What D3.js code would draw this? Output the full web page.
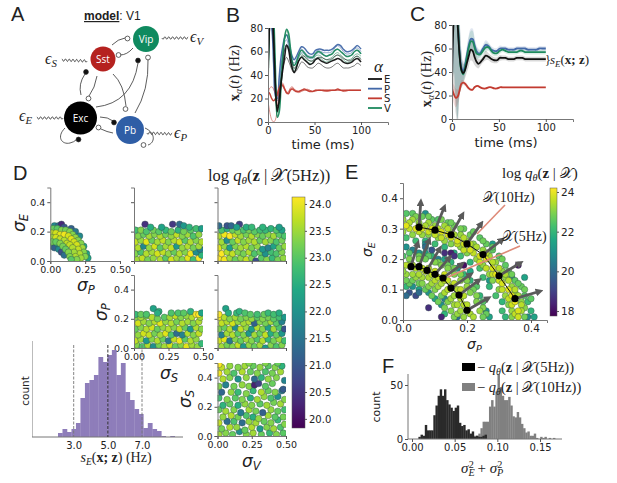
<!DOCTYPE html>
<html>
<head>
<meta charset="utf-8">
<script src="https://cdnjs.cloudflare.com/ajax/libs/d3/7.8.5/d3.min.js"></script>
<style>
	body { margin: 0; background: #fff; }
	svg { display: block; }
	.tick text { font-family: "DejaVu Sans", sans-serif; fill: #222; }
	.tick line { stroke: #555; }
	.domain { stroke: #777; }
</style>
</head>
<body>
<svg id="graph" width="617" height="483"></svg>
<script>
// time samples shared by the B and C traces (ms)
const times = [0,2,4,6,8,10,12,14,16,18,20,22,24,26,28,30,33,36,39,42,45,48,51,54,57,60,63,66,69,72,75,78,81,84,87,90,93,96,100];

// panel B, single simulated traces (Hz)
const tracesE = [
	[26,90,100,80,38,14,16,30,48,62,66,64,58,50,46,47,52,56,56,54,52,52,54,55,55,54,53,53,54,56,57,56,54,53,52,53,55,56,53],
	[30,80,90,60,25,12,22,36,46,52,55,52,48,44,42,43,47,51,50,47,46,46,48,50,49,47,46,46,47,49,50,48,46,46,46,47,48,50,48],
	[28,85,95,70,30,9,18,33,45,56,65,62,52,46,42,45,52,55,53,51,49,50,53,54,52,51,50,51,52,53,54,53,51,50,50,51,53,54,51],
];
const tracesP = [
	[40,95,90,60,25,18,30,48,60,68,70,65,58,52,50,52,58,62,60,57,56,56,59,61,60,59,59,59,60,63,65,63,60,58,58,59,62,63,60],
	[38,100,110,75,35,22,28,42,55,62,66,62,55,50,48,50,55,59,58,55,54,54,57,59,58,57,56,57,58,61,62,60,58,56,56,57,60,61,58],
	[42,85,80,50,22,20,38,55,65,72,74,70,62,56,53,55,60,64,63,60,58,58,61,62,62,61,61,61,62,64,66,65,62,60,60,61,63,65,62],
];
const tracesS = [
	[24,29,30,28,24,22,27,31,30,27,25,26,28,29,28,27,26,27,27,27,27,26,27,27,27,27,26,27,27,27,27,27,26,27,27,27,27,27,27],
	[18,8,2,0,2,12,26,33,33,28,24,25,29,30,28,26,25,26,27,28,27,26,26,27,27,26,26,26,27,27,27,27,26,26,27,27,27,27,27],
	[26,24,20,18,20,24,29,32,31,28,25,24,27,28,27,26,26,27,28,27,26,26,27,27,27,27,27,27,27,27,28,27,27,27,27,27,27,27,27],
];
const tracesV = [
	[30,90,110,90,40,5,12,35,58,72,78,74,60,48,45,47,55,58,56,53,52,52,56,57,56,54,53,54,55,58,59,57,55,53,53,54,57,58,56],
	[32,85,100,80,35,8,18,40,60,70,75,70,58,46,43,45,52,56,54,51,50,50,53,55,54,52,51,52,53,56,57,55,53,51,51,52,55,56,54],
	[28,95,120,95,45,4,8,30,55,73,79,76,64,52,48,50,57,61,59,56,55,55,58,60,59,57,56,57,58,61,62,60,58,56,56,57,60,61,58],
];

// panel C, means and spreads (Hz)
const meanE = [28,85,95,80,55,42,39,42,48,54,59,58,53,49,47,48,51,54,53,51,50,50,52,52,52,51,51,51,52,52,52,51,51,51,51,51,51,51,51];
const meanP = [35,100,110,85,58,44,41,46,55,63,68,68,63,58,56,56,60,63,62,59,58,58,60,60,60,59,59,59,60,60,60,60,59,59,59,59,60,60,60];
const meanV = [32,100,105,85,55,41,38,44,53,61,66,66,61,56,55,55,58,61,61,58,56,56,58,59,58,57,57,57,57,58,58,57,57,57,57,57,57,57,57];
const meanS = [26,21,18,19,24,30,31,30,28,26,25,25,27,28,28,27,26,26,27,27,26,26,27,27,27,27,27,27,27,27,27,27,27,27,27,27,27,27,27];
const spreadBig = [6,60,90,85,35,15,8,7,8,9,9,9,7,5,4,3,3,4,3,3,2.5,2.5,2.5,2,2,2,2,2,2,2,2,2,2,2,2,2,2,2,2];
const spreadS = [5,8,8,6,4,3,2,2,2,1.5,1.2,1,1,1,0.8,0.8,0.7,0.7,0.6,0.5,0.5,0.5,0.5,0.5,0.5,0.5,0.5,0.5,0.5,0.5,0.5,0.5,0.5,0.5,0.5,0.5,0.5,0.5,0.5];

// panel D scatter, flat triples: sigma x 100, sigma y 100, log q
const scatterPE = [1,10,21, 3,9,20.8, 6,8,21.5, 8,6,20.5, 10,4,21, 5,12,21.8, 3,24,21.5, 6,24,21, 8,25,20, 10,23,20.6, 15,22,20.8, 18,20,21.2, 21,17,21.5, 24,10,22, 26,5,22, 27,2,22,
	2,22,22.8, 5,22,22.7, 8,21,23, 11,21,22.9, 14,20,23, 16,18,23, 18,16,23.1, 20,14,23, 22,12,23, 23,9,23.2, 24,6,23, 25,3,23,
	1,19,23.4, 4,19,23.5, 7,18,23.6, 10,18,23.7, 13,17,23.5, 15,15,23.6, 17,13,23.5, 19,11,23.5, 20,8,23.4, 21,5,23.3, 22,2,23.2,
	1,16,23.2, 4,16,23.5, 7,15,23.4, 10,14,23.3, 12,12,23.4, 14,11,23.4, 16,9,23.3, 17,6,23.2, 18,3,23.3, 19,1,23,
	1,13,22.9, 4,13,22.8, 7,12,23, 9,10,22.9, 11,8,22.8, 13,6,23, 14,3,23, 15,1,22.7];
const scatterSE = [2,1,23.2, 6,2,23.4, 10,1,22.9, 14,2,23.1, 19,1,23.3, 23,2,22.7, 27,1,23.5, 31,2,23.2, 35,1,23, 39,2,23.6, 43,1,22.5, 47,2,23.9, 49,4,22.3,
	1,5,23, 5,6,22.6, 9,5,23.3, 13,6,23.2, 17,5,23.5, 21,6,23.4, 25,5,23.1, 29,6,22.8, 33,5,23.3, 37,6,23, 41,5,23.7, 45,6,21.6, 48,8,21.4,
	3,9,23.3, 7,10,21.5, 11,9,23.1, 15,10,23.5, 19,9,22.7, 23,10,23.2, 27,9,23.4, 31,10,21.8, 35,9,23.1, 39,10,23.3, 43,9,22.9, 47,10,23.2,
	1,13,23.4, 5,14,23.1, 9,13,23.6, 13,14,22.8, 17,13,23.2, 21,14,23.4, 25,13,23, 29,14,23.3, 33,13,23.5, 37,14,22.7, 41,13,23.3, 45,14,23, 49,13,23.3,
	3,17,23, 7,18,22.8, 11,17,23.2, 15,18,23, 19,17,23.3, 23,18,22.9, 27,17,23.1, 31,18,23.4, 35,17,23, 39,18,23.2, 43,17,22.6, 47,18,23.1,
	1,21,22.5, 5,21,23, 9,20,22.6, 14,21,22.9, 18,20,22.7, 23,21,22.4, 27,20,22.8, 32,21,22.3, 36,20,22.9, 41,21,22.7, 45,22,22.5, 49,22,21.9,
	8,25,20.1, 28,25,20.2, 33,25,21, 36,24,21.8, 12,23,22.2, 20,23,22, 40,23,22.3];
const scatterVE = [1,2,23.9, 5,1,23.7, 9,2,23.2, 13,1,22.8, 17,2,23.1, 21,1,23.4, 25,2,23, 28,0,20.5, 32,2,22.7, 36,1,23, 40,2,22.4, 44,1,22.9, 48,2,23.1,
	3,5,23.8, 7,6,23.3, 11,5,23.4, 15,6,23, 19,5,22.9, 23,6,23.3, 27,5,22.6, 31,6,22.8, 35,5,21.7, 39,6,22.5, 43,5,22.6, 47,6,23,
	1,9,23.6, 5,10,23.1, 9,9,21.9, 13,10,23, 17,9,23.2, 21,10,23.3, 25,9,22.9, 29,10,23.1, 33,8,21.8, 37,9,21.4, 41,10,22, 45,9,22.8, 49,10,23.1,
	3,13,23.2, 7,14,21.6, 11,13,22.8, 15,14,23.4, 19,13,23, 23,14,23.2, 27,13,23.3, 31,14,22.8, 35,13,23.2, 39,14,23, 43,13,22.6, 47,14,22.9,
	1,17,23.3, 5,18,23.7, 9,17,23.8, 13,18,23.4, 17,17,23.2, 21,18,22.9, 25,17,23.3, 29,18,23, 33,17,22.8, 37,18,23, 41,17,23.2, 45,18,22.7, 49,17,22.6,
	3,21,22.6, 7,22,22.3, 11,21,22.8, 15,20,23, 19,21,22.6, 23,21,22.9, 27,20,22.7, 31,21,22.5, 35,21,22.4, 39,22,22.3, 43,21,22.6, 47,21,22,
	1,24,21, 7,24,20.6, 10,24,20.9, 16,25,20.3, 14,23,21.9, 21,23,22.2, 25,23,22.4, 33,23,22.3, 45,23,21.9];
const scatterSP = [2,2,23, 6,1,22.6, 10,2,23.3, 14,1,21.6, 18,2,22.9, 22,1,23.2, 26,2,23.5, 30,1,22.8, 34,2,23, 38,1,23.6, 42,2,23.2, 46,1,23.1, 49,3,22.4,
	1,5,23.4, 5,6,23.2, 9,5,21.8, 13,6,23, 17,5,23.3, 21,6,22.8, 25,5,21.2, 29,6,23.4, 33,5,23.7, 37,6,22.7, 41,5,23.3, 45,6,23.1,
	3,9,23.1, 7,10,23.5, 11,9,23.4, 15,10,22.9, 19,9,23.2, 23,10,23.6, 27,9,22.6, 31,10,21, 35,9,21.4, 39,10,23.3, 43,9,23, 47,10,23.4,
	1,13,22.8, 5,14,23, 9,13,23.3, 13,14,23.5, 17,13,22.8, 21,14,23.1, 25,13,23.3, 29,14,23, 33,13,23.4, 37,14,22.8, 41,13,21.8, 45,14,23.3, 49,13,23,
	3,17,23.5, 7,18,23.2, 11,17,23, 15,18,23.3, 19,17,23.6, 23,18,23.1, 27,17,23.3, 31,18,22.9, 35,17,23.3, 39,18,23.2, 43,17,23, 47,18,23.3,
	1,21,23, 5,21,23.2, 9,22,23, 13,21,23.3, 17,20,22.9, 22,21,22.7, 26,21,23.2, 30,22,23.4, 34,21,23, 38,22,23.1, 42,21,23.3, 48,21,23.2,
	1,23,22.4, 5,23,22.8, 9,23,22.6, 14,27,22, 18,25,22.3, 17,24,22.2, 27,24,22.6, 32,24,22.6, 36,24,22.7, 41,25,22.3, 45,23,24, 47,23,24, 49,24,22];
const scatterVP = [3,1,23.2, 7,2,22.9, 11,1,23, 15,2,23.4, 19,1,21.8, 23,2,23.1, 27,1,22.8, 31,2,23.2, 35,0,21.8, 39,2,23, 43,1,22.6, 47,2,23,
	1,5,23.5, 5,6,23.6, 9,5,21.2, 13,6,23, 17,5,22.8, 21,6,23.2, 25,5,23, 29,6,22.6, 33,5,23.3, 37,6,22.4, 41,5,22.9, 45,6,23.2, 49,5,22.5,
	3,9,21.4, 7,10,23.2, 11,9,23.3, 15,10,22.7, 19,9,23, 23,10,21.8, 27,9,23.2, 31,10,22.8, 35,9,23.4, 39,10,22.2, 43,9,22.8, 47,10,21.8,
	1,13,23, 5,14,22.8, 9,13,23.3, 13,14,21.6, 17,13,23.4, 21,14,23.1, 25,13,21.9, 29,14,23.3, 33,13,23, 37,14,21.9, 41,13,23.2, 45,14,22.6, 49,13,20.6,
	3,17,23.4, 7,18,23.3, 11,17,23.5, 15,18,23.1, 19,17,23.2, 23,18,23.3, 27,17,20.8, 31,18,23, 35,17,22.9, 39,18,23.2, 43,17,22.7, 47,18,21.4,
	1,21,23.7, 5,21,23.3, 9,20,23, 13,21,23.2, 17,20,22.9, 21,21,23, 25,20,23.1, 29,21,22.7, 33,20,23, 37,21,22.9, 41,20,22.7, 45,21,22.5, 49,21,21.8,
	1,23,24, 6,27,22, 8,24,22.2, 14,24,22.4, 16,25,22.3, 20,24,22.6, 24,23,22.7, 29,23,22.5, 34,23,22.8, 37,24,22.4, 41,23,22.5, 45,24,22.2];
const scatterVS = [1,1,23.2, 6,2,23, 11,1,22.8, 16,3,21.6, 21,1,23, 26,2,23.2, 32,1,22.8, 38,2,22.4, 43,1,23, 48,2,22.7,
	3,5,22.9, 9,6,23.3, 14,6,23.1, 20,4,22.8, 25,6,23.3, 31,5,21.8, 36,6,23, 41,5,23.2, 46,6,22.6, 49,8,23,
	1,9,23.4, 7,10,21, 12,10,22.6, 18,9,21, 23,10,23.1, 28,9,23.2, 34,10,22.8, 39,9,23, 44,11,22.4,
	4,13,23.1, 10,14,23.3, 15,13,22.9, 21,14,22.6, 26,13,22.2, 30,12,23.1, 37,14,23.2, 42,13,22.7, 48,13,22.9,
	1,18,22.8, 6,17,23.2, 12,18,23, 17,16,21.3, 23,18,23.2, 28,17,22.9, 33,16,20.8, 39,18,23.1, 44,17,22.8, 49,18,22.5,
	4,21,22.3, 9,22,22.8, 15,21,22.2, 20,22,23.1, 25,21,23, 31,22,22.7, 36,21,23.2, 41,23,22.9, 46,22,23.2,
	1,26,22.5, 7,25,23, 13,26,22.7, 18,25,23, 24,26,22.2, 29,25,23.2, 34,27,23.1, 39,26,22.6, 44,27,21.6, 49,25,23,
	3,30,20.9, 10,30,23.1, 15,30,22.4, 21,29,23, 26,31,22.4, 32,30,23.3, 37,31,22.8, 42,30,23, 47,31,21.2,
	1,34,23, 6,35,21.4, 12,34,22.9, 18,35,23.1, 23,34,23, 27,35,19.9, 30,36,20.3, 35,34,22.7, 40,36,22.8, 48,32,20.7,
	4,39,23.3, 9,40,23, 15,39,21.7, 21,40,23.1, 27,39,21, 32,40,22.3, 37,39,23.1, 43,40,23, 49,38,21.4,
	1,43,23.7, 7,44,23.2, 12,43,22.6, 18,44,23.3, 24,44,22.8, 29,43,23, 35,44,22.6, 40,43,22.9, 46,44,23.2,
	3,47,23.4, 9,48,23.1, 15,47,23, 20,48,23.2, 26,48,22.8, 31,47,23.1, 37,48,22.7, 42,47,23, 47,48,22.3, 1,49,24, 23,50,23, 35,50,23, 44,50,22.8];

// panel D histogram of s_E
const histCounts = [4,8,5,8,14,39,54,57,62,80,75,82,87,62,74,45,37,28,23,9,14,8,6,1,0,1];
const histStart = 2.08;
const histStep = 0.263;
const histMarks = [3, 5, 7];

// panel E, samples for the two conditions: sigma_P x 100, sigma_E x 100, log q
const samples10Hz = [7,35,21, 28,25,21.4, 34,14,20.5, 36,18,18, 38,14,21.5, 27,13,21.2, 39,1,20.8,
	1,35,22.5, 3,35,22.6, 6,34,22.7, 9,33,22.6, 11,33,22.5, 14,32,22.7, 16,31,22.8, 19,30,22.7, 21,28,22.8, 24,27,22.6, 26,25,22.7, 28,23,22.6, 30,21,22.5, 32,18,22.6, 33,16,22.7, 35,13,22.6, 37,11,22.7, 38,8,22.5, 39,6,22.2, 40,3,22, 41,1,21.5,
	4,34,22.9, 8,34,22.8, 12,33,22.9, 15,32,22.8, 18,30,22.9, 22,29,22.7, 25,26,22.8, 28,24,22.7, 31,20,22.8, 34,15,22.8, 36,12,22.7, 38,10,22.8, 40,7,22.6,
	1,27,22.3, 4,26,22.2, 7,26,22, 10,25,22.2, 13,24,22, 16,22,21.8, 18,21,22.2, 21,19,22, 24,17,22.3, 25,14,22.2, 27,11,22, 29,8,22.3, 31,6,22, 31,3,22.2, 32,1,22,
	0,33,23.2, 3,33,23.3, 5,32,23.2, 8,32,23.3, 10,31,23.2, 13,31,23.3, 15,29,23.1, 18,28,23.2, 20,26,23.2, 22,25,23.1, 25,23,23.2, 27,21,23.3, 29,19,23.2, 31,16,23.1, 32,14,23.2, 34,11,23.2, 35,9,23.3, 37,6,23.1, 38,4,23, 38,1,22.8,
	0,29,23.2, 3,28,23.1, 6,28,23.2, 8,28,23, 11,27,23.1, 13,26,23.2, 15,25,23, 18,24,23.1, 20,22,23, 23,20,23.2, 25,18,23.1, 27,15,23.2, 28,13,23, 30,10,23.1, 32,8,23.2, 33,5,23, 34,3,23.2, 34,1,23,
	2,32,23.4, 5,31,23.5, 7,31,23.4, 11,30,23.5, 14,30,23.5, 16,28,23.4, 19,27,23.5, 21,25,23.5, 23,24,23.4, 26,22,23.5, 28,19,23.5, 30,17,23.5, 32,15,23.4, 33,13,23.5, 35,10,23.5, 36,8,23.4, 37,5,23.5, 37,3,23.4,
	2,30,23.6, 5,29,23.6, 8,29,23.7, 10,28,23.6, 12,27,23.6, 15,27,23.7, 17,25,23.6, 19,23,23.6, 22,22,23.6, 24,19,23.7, 26,17,23.6, 28,15,23.6, 30,13,23.7, 31,10,23.6, 33,7,23.6, 34,5,23.7, 35,2,23.6,
	1,31,23.9, 4,30,23.9, 6,30,23.8, 9,30,23.8, 12,29,23.8, 14,28,23.8, 17,26,23.8, 19,25,23.7, 21,23,23.8, 24,21,23.8, 26,20,23.9, 28,17,23.8, 29,15,23.9, 31,12,23.8, 33,10,23.9, 34,8,23.9, 35,6,24, 36,3,23.8, 36,1,23.7];
const samples5Hz = [1,24,21, 3,23,20.5, 5,22,21, 7,22,21.5, 9,21,22, 11,20,20.5, 13,20,21.5, 15,19,22, 17,17,21, 19,15,22, 21,13,22, 23,11,22.5, 24,8,22, 25,6,22.5, 26,3,21, 27,1,21.5,
	1,11,22, 3,11,21, 5,10,21.5, 8,9,21, 10,7,21.5, 12,5,21, 13,2,22, 2,9,19.4, 1,8,20, 4,8,19.2, 5,9,20, 8,4,18.6, 12,1,18.4, 13,7,20.6, 17,1,20,
	7,25,20.8, 9,23,19.4, 13,22,18.6, 15,22,18.3, 16,21,18.7, 19,18,18, 21,16,21.6, 7,24,20,
	2,22,22.5, 5,21,22.8, 8,21,22.6, 11,19,22.9, 14,18,22.8, 16,17,22.9, 18,15,23, 20,13,23, 22,10,22.8, 23,8,23, 25,4,23, 26,2,22.7,
	2,12,22.7, 5,12,22.8, 7,10,22.7, 9,8,22.8, 11,6,22.8, 13,4,22.9,
	0,21,22.5, 2,20,23, 5,20,23, 7,20,22.8, 10,19,23, 12,18,23, 14,17,23, 16,15,23, 18,13,23.2, 20,11,23.2, 21,9,23, 23,6,23, 24,3,23.2, 25,1,22.8,
	1,13,22.8, 3,13,22.8, 6,12,23, 8,11,23, 10,10,23, 12,8,22.8, 14,6,23, 15,3,23, 16,1,22.9,
	1,15,23.2, 4,14,23.2, 6,14,23.3, 9,12,23.3, 11,11,23.3, 13,9,23.4, 15,7,23.3, 16,5,23.3, 17,2,23.2,
	0,16,23.2, 3,15,23.3, 5,15,23.4, 8,14,23.4, 10,13,23.5, 12,12,23.4, 14,10,23.5, 16,8,23.3, 17,5,23.4, 18,3,23.3, 19,1,23.2,
	2,18,23.3, 4,17,23.5, 7,16,23.6, 9,15,23.6, 11,14,23.6, 13,13,23.6, 15,11,23.6, 17,10,23.5, 18,7,23.5, 19,5,23.5, 20,3,23.5,
	1,18,23.5, 3,18,23.5, 6,17,23.6, 8,17,23.6, 10,16,23.7, 13,15,23.7, 14,13,23.6, 16,12,23.6, 18,10,23.6, 19,8,23.5, 20,5,23.5, 21,2,23.4, 22,1,23.4];

// panel E, conditions and score arrows
const sigmaP10Hz = [0.05,0.1,0.15,0.2,0.25,0.3,0.35];
const sigmaE10Hz = [0.305,0.295,0.28,0.25,0.215,0.145,0.07];
const arrowP10Hz = [0.005,0.026,0.032,0.04,0.054,0.06,0.07];
const arrowE10Hz = [0.074,0.068,0.059,0.06,0.044,0.038,0.022];
const sigmaP5Hz = [0.025,0.05,0.075,0.1,0.125,0.15,0.175,0.2];
const sigmaE5Hz = [0.175,0.175,0.163,0.15,0.138,0.105,0.082,0.032];
const arrowP5Hz = [0.019,0.029,0.036,0.04,0.053,0.055,0.056,0.06];
const arrowE5Hz = [0.069,0.08,0.065,0.049,0.041,0.04,0.044,0.036];

// panel F histograms
const histF5Hz = [2,4,3,13,8,8,8,22,31,40,46,40,46,36,32,29,26,29,31,15,12,13,8,9,5,7,2,3,2,2,3,4];
const histF10Hz = [3,3,5,10,16,16,16,30,36,30,44,60,48,40,36,36,39,31,21,20,25,20,14,10,6,7,3,3,5,1,0,2,1,2,0,1,0,1];
const histF5HzStart = 0.0075;
const histF10HzStart = 0.0727;
const histFStep = 0.0025;

const colorE = "#111111";
const colorP = "#4268a8";
const colorS = "#c23b30";
const colorV = "#1e8a5e";

const svg = d3.select("#graph");
const SANS = '"DejaVu Sans", sans-serif';
const SERIF = '"Liberation Serif", "DejaVu Serif", serif';

// text with sub/superscripts and mixed styles
function tex(x, y, parts, opt = {}) {
	const t = svg
		.append("text")
		.attr("transform", `translate(${x},${y}) rotate(${opt.rotate || 0})`)
		.attr("text-anchor", opt.anchor || "start")
		.attr("font-family", opt.font || SERIF)
		.attr("font-size", opt.size || 13)
		.attr("fill", "#222");
	let shift = 0;
	parts.forEach((p) => {
		const want = p.sub ? 3 : p.sup ? -5 : 0;
		const s = t
			.append("tspan")
			.text(p.t)
			.attr("dy", want - shift)
			.attr("font-style", p.i ? "italic" : "normal")
			.attr("font-weight", p.b ? "bold" : "normal");
		if (p.sub || p.sup) s.attr("font-size", (opt.size || 13) * 0.68);
		if (p.u) s.attr("text-decoration", "underline");
		if (p.dx) s.attr("dx", p.dx);
		shift = want;
	});
	return t;
}

function label(x, y, s, size = 21) {
	svg.append("text")
		.attr("x", x)
		.attr("y", y)
		.attr("font-family", '"Liberation Sans", sans-serif')
		.attr("font-size", size)
		.attr("fill", "#222")
		.text(s);
}

function makeAxes(xScale, yScale, o) {
	const ty = yScale.range()[0];
	const tx = xScale.range()[0];
	const fs = o.fontSize || 10;
	const gx = svg.append("g")
		.attr("transform", `translate(0,${ty})`)
		.call(d3.axisBottom(xScale).tickValues(o.xTicks).tickSizeOuter(0).tickSize(3).tickPadding(2)
			.tickFormat(o.xLabels === false ? "" : o.xFormat));
	const gy = svg.append("g")
		.attr("transform", `translate(${tx},0)`)
		.call(d3.axisLeft(yScale).tickValues(o.yTicks).tickSizeOuter(0).tickSize(3).tickPadding(2)
			.tickFormat(o.yLabels === false ? "" : o.yFormat));
	gx.selectAll("text").style("font-size", fs + "px");
	gy.selectAll("text").style("font-size", fs + "px");
}

let clipCount = 0;
function clipRect(xScale, yScale) {
	const id = "clip" + clipCount++;
	svg.append("clipPath")
		.attr("id", id)
		.append("rect")
		.attr("x", xScale.range()[0])
		.attr("y", yScale.range()[1])
		.attr("width", xScale.range()[1] - xScale.range()[0])
		.attr("height", yScale.range()[0] - yScale.range()[1]);
	return `url(#${id})`;
}

function triples(flat) {
	return d3.range(0, flat.length, 3).map((i) => [flat[i] / 100, flat[i + 1] / 100, flat[i + 2]]);
}

// ---- panel A schematic ----
const nodes = [
	{ name: "Vip", x: 146, y: 39, r: 13, c: "#0f8a5f" },
	{ name: "Sst", x: 103, y: 59, r: 12.5, c: "#b5221f" },
	{ name: "Exc", x: 80.5, y: 118, r: 16.5, c: "#000000" },
	{ name: "Pb", x: 130, y: 130, r: 14, c: "#2f5ea6" },
];
const noise = [
	{ x1: 162, y1: 38, x2: 188, y2: 38, s: "V", tx: 190, ty: 42 },
	{ x1: 87, y1: 61, x2: 62, y2: 60, s: "S", tx: 45, ty: 64 },
	{ x1: 63, y1: 118, x2: 37, y2: 118, s: "E", tx: 19, ty: 121 },
	{ x1: 147, y1: 133, x2: 172, y2: 134, s: "P", tx: 174, ty: 138 },
];
const links = [
	{ d: "M112,45 Q118,39 125,38", end: [127.5, 38.5], open: true },
	{ d: "M133,48 Q127,55 120,55", end: [118.5, 55], open: true },
	{ d: "M81,95 Q78,84 85,74", end: [86, 72], open: false },
	{ d: "M97,76 Q95,88 89,96", end: [88.5, 98.5], open: true },
	{ d: "M96,107 Q132,103 138,63", end: [138, 60.5], open: false },
	{ d: "M113,74 Q124,84 126,106", end: [125.5, 109], open: true },
	{ d: "M135,113 Q149,90 148,60", end: [148, 57.5], open: true },
	{ d: "M100,117 Q108,117 113,121", end: [114, 122.5], open: false },
	{ d: "M113,133 Q107,132 101,129", end: [98.5, 127.5], open: true },
	{ d: "M65,128 C56,137 62,145 70,143 Q74,142 76,140", end: [78.5, 139.5], open: false },
	{ d: "M145,128 C156,133 155,143 148,145", end: [143.5, 145], open: true },
];
links.forEach((l) => {
	svg.append("path").attr("d", l.d).attr("fill", "none").attr("stroke", "#333").attr("stroke-width", 0.8);
	svg.append("circle")
		.attr("cx", l.end[0]).attr("cy", l.end[1]).attr("r", 2.4)
		.attr("fill", l.open ? "#fff" : "#111").attr("stroke", "#222").attr("stroke-width", 0.7);
});
noise.forEach((n) => {
	const pts = d3.range(0, 1.001, 0.01).map((k) => [
		n.x1 + (n.x2 - n.x1) * k,
		n.y1 + (n.y2 - n.y1) * k + 1.2 * Math.sin(k * 42),
	]);
	svg.append("path").attr("d", d3.line()(pts)).attr("fill", "none").attr("stroke", "#222").attr("stroke-width", 0.8);
	tex(n.tx, n.ty, [{ t: "ϵ", i: true }, { t: n.s, i: true, sub: true }], { size: 16 });
});
nodes.forEach((n) => {
	svg.append("circle").attr("cx", n.x).attr("cy", n.y).attr("r", n.r).attr("fill", n.c);
	svg.append("text")
		.attr("x", n.x).attr("y", n.y + 3.5)
		.attr("text-anchor", "middle")
		.attr("font-family", '"Open Sans", sans-serif')
		.attr("font-size", 10)
		.attr("fill", "#fff")
		.text(n.name);
});
label(11, 21, "A", 20);
tex(84, 20, [{ t: "model", b: true, u: true }, { t: ": V1" }], { font: '"Liberation Sans", sans-serif', size: 12 });

// ---- panel B ----
const xB = d3.scaleLinear().domain([0, 129]).range([268, 388]);
const yB = d3.scaleLinear().domain([0, 80]).range([122, 28]);
const traceLine = d3.line().x((d, i) => xB(times[i])).y((d) => yB(d)).curve(d3.curveCatmullRom);
const clipB = clipRect(xB, yB);
[
	[tracesP, colorP],
	[tracesS, colorS],
	[tracesV, colorV],
	[tracesE, colorE],
].forEach(([series, color]) => {
	svg.append("g")
		.attr("clip-path", clipB)
		.selectAll("path")
		.data(series)
		.enter()
		.append("path")
		.attr("d", traceLine)
		.attr("fill", "none")
		.attr("stroke", color)
		.attr("stroke-width", (d, i) => (i === 2 ? 1.5 : 0.8))
		.attr("opacity", (d, i) => (i === 2 ? 0.95 : 0.7));
});
makeAxes(xB, yB, { xTicks: [0, 50, 100], yTicks: [0, 20, 40, 60, 80], fontSize: 10 });
label(226, 22, "B", 21);
tex(239, 73, [{ t: "x", b: true }, { t: "α", i: true, sub: true }, { t: "(" }, { t: "t", i: true }, { t: ")  (Hz)" }], { rotate: -90, anchor: "middle", size: 14.5 });
svg.append("text").attr("x", 323).attr("y", 149).attr("text-anchor", "middle").attr("font-family", SANS).attr("font-size", 13).attr("fill", "#222").text("time (ms)");
tex(374, 72, [{ t: "α", i: true }], { size: 17 });
const legendNames = ["E", "P", "S", "V"];
const legendColors = [colorE, colorP, colorS, colorV];
const legendY = d3.scalePoint().domain(legendNames).range([79, 108]);
legendNames.forEach((n, i) => {
	svg.append("line").attr("x1", 368).attr("x2", 382).attr("y1", legendY(n)).attr("y2", legendY(n)).attr("stroke", legendColors[i]).attr("stroke-width", 1.8);
	svg.append("text").attr("x", 384).attr("y", legendY(n) + 4).attr("font-family", SANS).attr("font-size", 10).attr("fill", "#222").text(n);
});

// ---- panel C ----
const xC = d3.scaleLinear().domain([0, 129]).range([452, 573]);
const yC = d3.scaleLinear().domain([0, 80]).range([119, 25]);
const clipC = clipRect(xC, yC);
const bandC = d3.area().x((d) => xC(times[d.i])).y0((d) => yC(d.m - d.s)).y1((d) => yC(d.m + d.s)).curve(d3.curveCatmullRom);
const lineC = d3.line().x((d, i) => xC(times[i])).y((d) => yC(d)).curve(d3.curveCatmullRom);
[
	[meanE, spreadBig, colorE],
	[meanP, spreadBig, colorP],
	[meanV, spreadBig, colorV],
	[meanS, spreadS, colorS],
].forEach(([mean, spread, color]) => {
	svg.append("path")
		.attr("clip-path", clipC)
		.attr("d", bandC(mean.map((m, i) => ({ m, s: spread[i], i }))))
		.attr("fill", color)
		.attr("opacity", 0.16);
});
[
	[meanP, colorP],
	[meanV, colorV],
	[meanE, colorE],
	[meanS, colorS],
].forEach(([mean, color]) => {
	svg.append("path")
		.attr("clip-path", clipC)
		.attr("d", lineC(mean))
		.attr("fill", "none")
		.attr("stroke", color)
		.attr("stroke-width", 1.8);
});
makeAxes(xC, yC, { xTicks: [0, 50, 100], yTicks: [0, 20, 40, 60, 80], fontSize: 10 });
label(410, 21, "C", 21);
tex(431, 79, [{ t: "x", b: true }, { t: "α", i: true, sub: true }, { t: "(" }, { t: "t", i: true }, { t: ")  (Hz)" }], { rotate: -90, anchor: "middle", size: 14.5 });
svg.append("text").attr("x", 506).attr("y", 147).attr("text-anchor", "middle").attr("font-family", SANS).attr("font-size", 13).attr("fill", "#222").text("time (ms)");
tex(545, 64, [{ t: "}" }], { size: 12 });
tex(550, 64, [{ t: "s", i: true }, { t: "E", i: true, sub: true }, { t: "(" }, { t: "x; z", b: true }, { t: ")" }], { size: 13 });

// ---- panel D scatter grid ----
const colorD = d3.scaleSequential(d3.interpolateViridis).domain([19.5, 23.8]);
const fmt2 = d3.format(".2f");
const fmt1 = d3.format(".1f");
const panelsD = [
	{ data: scatterPE, x: [50.3, 120], y: [261, 187.5], xLabels: true, yLabels: true },
	{ data: scatterSE, x: [134, 203], y: [261, 187.5], xLabels: false, yLabels: false },
	{ data: scatterVE, x: [217.5, 286], y: [261, 187.5], xLabels: false, yLabels: false },
	{ data: scatterSP, x: [134, 203], y: [348, 275], xLabels: true, yLabels: true },
	{ data: scatterVP, x: [217.5, 286], y: [348, 275], xLabels: false, yLabels: false },
	{ data: scatterVS, x: [217.5, 286], y: [436, 363], xLabels: true, yLabels: true },
];
panelsD.forEach((p) => {
	const xs = d3.scaleLinear().domain([0, 0.5]).range(p.x);
	const ys = d3.scaleLinear().domain([0, 0.5]).range(p.y);
	svg.append("g")
		.attr("clip-path", clipRect(xs, ys))
		.selectAll("circle")
		.data(triples(p.data))
		.enter()
		.append("circle")
		.attr("cx", (d) => xs(d[0]))
		.attr("cy", (d) => ys(d[1]))
		.attr("r", 3.3)
		.attr("fill", (d) => colorD(d[2]))
		.attr("stroke", "#2f4f4a")
		.attr("stroke-width", 0.4);
	makeAxes(xs, ys, {
		xTicks: [0, 0.25, 0.5],
		yTicks: [0, 0.2, 0.4],
		xFormat: fmt2,
		yFormat: fmt1,
		xLabels: p.xLabels,
		yLabels: p.yLabels,
		fontSize: 9.5,
	});
});
label(13, 180, "D", 20);
const sigmaOpt = { font: SANS, size: 17 };
tex(25, 232, [{ t: "σ", i: true }, { t: "E", i: true, sub: true }], { ...sigmaOpt, rotate: -90 });
tex(77, 291, [{ t: "σ", i: true }, { t: "P", i: true, sub: true }], sigmaOpt);
tex(107, 321, [{ t: "σ", i: true }, { t: "P", i: true, sub: true }], { ...sigmaOpt, rotate: -90 });
tex(160, 379, [{ t: "σ", i: true }, { t: "S", i: true, sub: true }], sigmaOpt);
tex(191, 408, [{ t: "σ", i: true }, { t: "S", i: true, sub: true }], { ...sigmaOpt, rotate: -90 });
tex(242, 467, [{ t: "σ", i: true }, { t: "V", i: true, sub: true }], sigmaOpt);
tex(208, 181, [{ t: "log " }, { t: "q", i: true }, { t: "θ", i: true, sub: true }, { t: "(" }, { t: "z", b: true }, { t: " | " }, { t: "𝒳" }, { t: "(5Hz))" }], { size: 16.5 });

function colorBar(id, domain, x0, x1, y0, y1, ticks, format, fontSize) {
	const grad = svg.append("linearGradient").attr("id", id).attr("x1", 0).attr("x2", 0).attr("y1", 1).attr("y2", 0);
	d3.range(0, 1.001, 0.1).forEach((k) => {
		grad.append("stop").attr("offset", k).attr("stop-color", d3.interpolateViridis(k));
	});
	svg.append("rect").attr("x", x0).attr("y", y0).attr("width", x1 - x0).attr("height", y1 - y0)
		.attr("fill", `url(#${id})`).attr("stroke", "#555").attr("stroke-width", 0.5);
	const barScale = d3.scaleLinear().domain(domain).range([y1, y0]);
	const g = svg.append("g")
		.attr("transform", `translate(${x1},0)`)
		.call(d3.axisRight(barScale).tickValues(ticks).tickFormat(format).tickSize(2).tickPadding(2).tickSizeOuter(0));
	g.select(".domain").remove();
	g.selectAll("text").style("font-size", fontSize + "px");
}
colorBar("barD", [19.83, 24.13], 292, 305, 197, 428, [20, 20.5, 21, 21.5, 22, 22.5, 23, 23.5, 24], fmt1, 10);

// ---- panel D histogram ----
const xHist = d3.scaleLinear().domain([3, 7]).range([73.7, 142]);
const yHist = d3.scaleLinear().domain([0, 96]).range([437, 341]);
svg.append("g")
	.selectAll("rect")
	.data(histCounts)
	.enter()
	.append("rect")
	.attr("x", (d, i) => xHist(histStart + i * histStep))
	.attr("y", (d) => yHist(d))
	.attr("width", xHist(3 + histStep) - xHist(3) + 0.3)
	.attr("height", (d) => yHist(0) - yHist(d))
	.attr("fill", "#8e7dba");
svg.append("line").attr("x1", 32.5).attr("x2", 32.5).attr("y1", 341).attr("y2", 437).attr("stroke", "#bbb");
svg.append("line").attr("x1", 32).attr("x2", 183).attr("y1", 437).attr("y2", 437).attr("stroke", "#777");
histMarks.forEach((m) => {
	svg.append("line")
		.attr("x1", xHist(m)).attr("x2", xHist(m))
		.attr("y1", 345).attr("y2", 437)
		.attr("stroke", m === 5 ? "#222" : "#777")
		.attr("stroke-width", 0.9)
		.attr("stroke-dasharray", "3,1.5");
});
const gHist = svg.append("g").attr("transform", "translate(0,437)")
	.call(d3.axisBottom(xHist).tickValues(histMarks).tickFormat(fmt1).tickSize(0).tickPadding(5));
gHist.select(".domain").remove();
gHist.selectAll("text").style("font-size", "10px");
svg.append("text").attr("transform", "translate(29,391) rotate(-90)").attr("text-anchor", "middle").attr("font-family", SANS).attr("font-size", 10.5).attr("fill", "#222").text("count");
tex(116, 462, [{ t: "s", i: true }, { t: "E", i: true, sub: true }, { t: "(" }, { t: "x; z", b: true }, { t: ")  (Hz)" }], { size: 14, anchor: "middle" });

// ---- panel E ----
const xE = d3.scaleLinear().domain([0, 0.45]).range([403, 547]);
const yE = d3.scaleLinear().domain([0, 0.45]).range([320, 183]);
const colorScaleE = d3.scaleSequential(d3.interpolateViridis).domain([17.75, 24.2]);
const clipE = clipRect(xE, yE);
[samples10Hz, samples5Hz].forEach((flat) => {
	svg.append("g")
		.attr("clip-path", clipE)
		.selectAll("circle")
		.data(triples(flat))
		.enter()
		.append("circle")
		.attr("cx", (d) => xE(d[0]))
		.attr("cy", (d) => yE(d[1]))
		.attr("r", 3.2)
		.attr("fill", (d) => colorScaleE(d[2]))
		.attr("stroke", "#2f4f4a")
		.attr("stroke-width", 0.4);
});
svg.append("defs").append("marker")
	.attr("id", "head").attr("viewBox", "0 0 10 10").attr("refX", 2).attr("refY", 5)
	.attr("markerWidth", 2.8).attr("markerHeight", 2.8).attr("orient", "auto")
	.append("path").attr("d", "M0,0 L10,5 L0,10 Z").attr("fill", "#5a5a5a");
[
	[sigmaP10Hz, sigmaE10Hz, arrowP10Hz, arrowE10Hz],
	[sigmaP5Hz, sigmaE5Hz, arrowP5Hz, arrowE5Hz],
].forEach(([ps, es, dps, des]) => {
	ps.forEach((p, i) => {
		svg.append("line")
			.attr("x1", xE(p)).attr("y1", yE(es[i]))
			.attr("x2", xE(p + dps[i])).attr("y2", yE(es[i] + des[i]))
			.attr("stroke", "#5a5a5a").attr("stroke-width", 2.8)
			.attr("marker-end", "url(#head)");
	});
	const pts = ps.map((p, i) => [xE(p), yE(es[i])]);
	svg.append("path").attr("d", d3.line()(pts)).attr("fill", "none").attr("stroke", "#111").attr("stroke-width", 1);
	svg.append("g").selectAll("circle").data(pts).enter().append("circle")
		.attr("cx", (d) => d[0]).attr("cy", (d) => d[1]).attr("r", 3.6).attr("fill", "#000");
});
makeAxes(xE, yE, { xTicks: [0, 0.2, 0.4], yTicks: [0, 0.1, 0.2, 0.3, 0.4], xFormat: fmt1, yFormat: fmt1, fontSize: 10.5 });
svg.append("path").attr("d", "M477,234 L505,205").attr("stroke", "#de8a78").attr("stroke-width", 1.6).attr("fill", "none");
svg.append("path").attr("d", "M448,277 L520,246").attr("stroke", "#de8a78").attr("stroke-width", 1.6).attr("fill", "none");
tex(483, 202, [{ t: "𝒳" }, { t: "(10Hz)" }], { size: 14 });
tex(502, 241, [{ t: "𝒳" }, { t: "(5Hz)" }], { size: 14 });
label(345, 179, "E", 20);
tex(372, 257, [{ t: "σ", i: true }, { t: "E", i: true, sub: true }], { font: SANS, size: 14, rotate: -90 });
tex(467, 349, [{ t: "σ", i: true }, { t: "P", i: true, sub: true }], { font: SANS, size: 14 });
tex(502, 178, [{ t: "log " }, { t: "q", i: true }, { t: "θ", i: true, sub: true }, { t: "(" }, { t: "z", b: true }, { t: " | " }, { t: "𝒳" }, { t: ")" }], { size: 15 });
colorBar("barE", [17.75, 24.2], 550, 557, 188, 316, [18, 20, 22, 24], d3.format("d"), 10.5);

// ---- panel F ----
const xF = d3.scaleLinear().domain([0, 0.15]).range([412, 540]);
const yF = d3.scaleLinear().domain([0, 50]).range([439, 385]);
const barW = xF(histFStep) - xF(0) + 0.3;
svg.append("g").selectAll("rect").data(histF10Hz).enter().append("rect")
	.attr("x", (d, i) => xF(histF10HzStart + i * histFStep))
	.attr("y", (d) => yF(d))
	.attr("width", barW)
	.attr("height", (d) => yF(0) - yF(d))
	.attr("fill", "#808080");
svg.append("g").selectAll("rect").data(histF5Hz).enter().append("rect")
	.attr("x", (d, i) => xF(histF5HzStart + i * histFStep))
	.attr("y", (d) => yF(d))
	.attr("width", barW)
	.attr("height", (d) => yF(0) - yF(d))
	.attr("fill", "#2a2a2a");
svg.append("line").attr("x1", 408).attr("x2", 408).attr("y1", 374).attr("y2", 439).attr("stroke", "#777");
svg.append("line").attr("x1", 408).attr("x2", 562).attr("y1", 439).attr("y2", 439).attr("stroke", "#777");
const gxF = svg.append("g").attr("transform", "translate(0,439)")
	.call(d3.axisBottom(xF).tickValues([0, 0.05, 0.1, 0.15]).tickFormat(fmt2).tickSize(3).tickPadding(2).tickSizeOuter(0));
gxF.select(".domain").remove();
gxF.selectAll("text").style("font-size", "10px");
const gyF = svg.append("g").attr("transform", "translate(408,0)")
	.call(d3.axisLeft(yF).tickValues([0, 50]).tickFormat(d3.format("d")).tickSize(3).tickPadding(2).tickSizeOuter(0));
gyF.select(".domain").remove();
gyF.selectAll("text").style("font-size", "10px");
svg.append("text").attr("transform", "translate(380,407) rotate(-90)").attr("text-anchor", "middle").attr("font-family", SANS).attr("font-size", 11).attr("fill", "#222").text("count");
label(382, 373, "F", 20);
svg.append("rect").attr("x", 462).attr("y", 363).attr("width", 13).attr("height", 8).attr("fill", "#000");
svg.append("rect").attr("x", 462).attr("y", 383).attr("width", 13).attr("height", 8).attr("fill", "#808080");
tex(477, 372, [{ t: "− " }, { t: "q", i: true }, { t: "θ", i: true, sub: true }, { t: "(" }, { t: "z", b: true }, { t: " | " }, { t: "𝒳" }, { t: "(5Hz))" }], { size: 14.5 });
tex(477, 392, [{ t: "− " }, { t: "q", i: true }, { t: "θ", i: true, sub: true }, { t: "(" }, { t: "z", b: true }, { t: " | " }, { t: "𝒳" }, { t: "(10Hz))" }], { size: 14.5 });
tex(461, 473, [{ t: "σ", i: true }, { t: "E", i: true, sub: true }, { t: "2", sup: true, dx: -6 }, { t: " + " }, { t: "σ", i: true }, { t: "P", i: true, sub: true }, { t: "2", sup: true, dx: -6 }], { size: 15 });
</script>
</body>
</html>
